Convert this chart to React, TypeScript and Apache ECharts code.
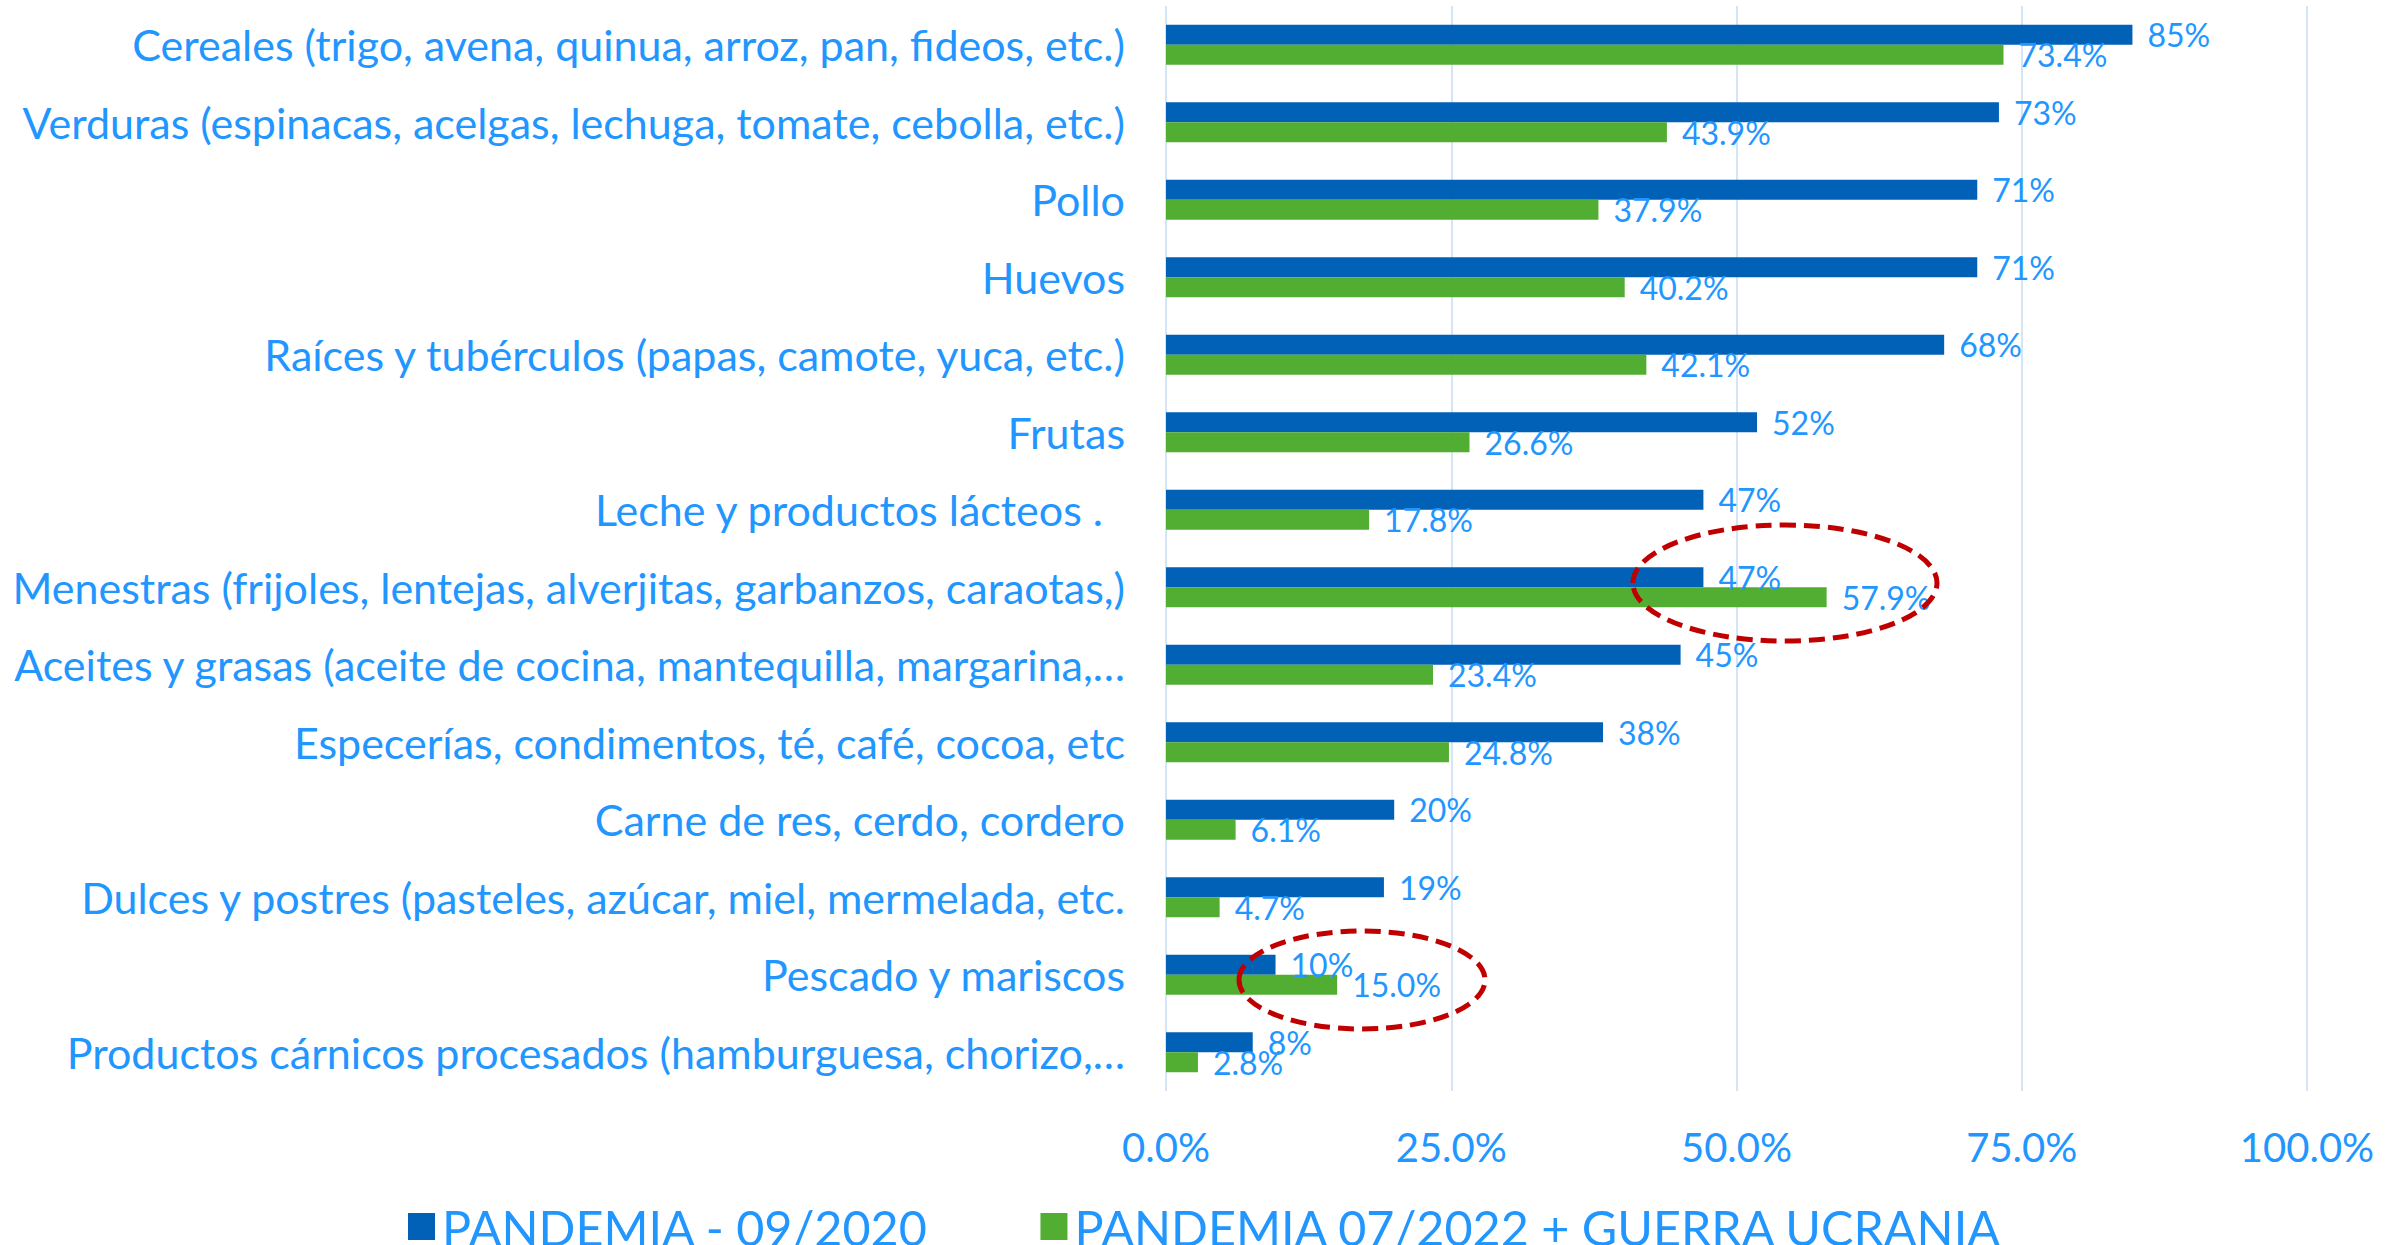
import React, { useEffect, useRef } from "react";
import * as echarts from "echarts";

const categories = [
  "Cereales (trigo, avena, quinua, arroz, pan, fideos, etc.)",
  "Verduras (espinacas, acelgas, lechuga, tomate, cebolla, etc.)",
  "Pollo",
  "Huevos",
  "Raíces y tubérculos (papas, camote, yuca, etc.)",
  "Frutas",
  "Leche y productos lácteos .  ",
  "Menestras (frijoles, lentejas, alverjitas, garbanzos, caraotas,)",
  "Aceites y grasas (aceite de cocina, mantequilla, margarina,…",
  "Especerías, condimentos, té, café, cocoa, etc",
  "Carne de res, cerdo, cordero",
  "Dulces y postres (pasteles, azúcar, miel, mermelada, etc.",
  "Pescado y mariscos",
  "Productos cárnicos procesados (hamburguesa, chorizo,…",
];

const pandemia2020 = [84.7, 73.0, 71.1, 71.1, 68.2, 51.8, 47.1, 47.1, 45.1, 38.3, 20.0, 19.1, 9.6, 7.6];
const pandemia2022 = [73.4, 43.9, 37.9, 40.2, 42.1, 26.6, 17.8, 57.9, 23.4, 24.8, 6.1, 4.7, 15.0, 2.8];

const seriesNames = ["PANDEMIA - 09/2020", "PANDEMIA 07/2022 + GUERRA UCRANIA"];
const xTicks = [0, 25, 50, 75, 100];

const TEXT = "#2196FF";
const FONT = "Lato";

export default function App() {
  const ref = useRef<HTMLDivElement>(null);
  useEffect(() => {
    if (!ref.current) return;
    const chart = echarts.init(ref.current, null, { renderer: "svg" });
    chart.setOption({
      animation: false,
      backgroundColor: "#ffffff",
      textStyle: { fontFamily: FONT },
      grid: { left: 1166, right: 98, top: 6, bottom: 154, containLabel: false },
      xAxis: {
        type: "value",
        min: xTicks[0],
        max: xTicks[xTicks.length - 1],
        interval: 25,
        axisLine: { show: false },
        axisTick: { show: false },
        splitLine: { show: true, lineStyle: { color: "#D3E5F7", width: 2 } },
        axisLabel: {
          color: TEXT,
          fontSize: 40,
          fontFamily: FONT,
          margin: 36,
          formatter: (v: number) => `${v.toFixed(1)}%`,
        },
      },
      yAxis: {
        type: "category",
        data: categories,
        inverse: true,
        axisLine: { show: false },
        axisTick: { show: false },
        axisLabel: { color: TEXT, fontSize: 43, fontFamily: FONT, margin: 41 },
      },
      legend: {
        top: 1202,
        left: 408,
        padding: 0,
        icon: "rect",
        itemWidth: 27,
        itemHeight: 27,
        itemGap: 112,
        textStyle: {
          color: TEXT,
          fontSize: 48.5,
          lineHeight: 40,
          fontFamily: FONT,
          padding: [0, 0, 0, 2],
        },
        data: seriesNames,
      },
      series: [
        {
          name: seriesNames[0],
          type: "bar",
          data: pandemia2020,
          barWidth: 20,
          barGap: "0%",
          itemStyle: { color: "#0061B6" },
          label: {
            show: true,
            position: "right",
            distance: 15,
            color: TEXT,
            fontSize: 32,
            fontFamily: FONT,
            formatter: (p: any) => `${Math.round(p.value)}%`,
          },
        },
        {
          name: seriesNames[1],
          type: "bar",
          data: pandemia2022,
          barWidth: 20,
          barGap: "0%",
          itemStyle: { color: "#52AE32" },
          label: {
            show: true,
            position: "right",
            distance: 15,
            color: TEXT,
            fontSize: 32,
            fontFamily: FONT,
            formatter: (p: any) => `${p.value.toFixed(1)}%`,
          },
        },
      ],
      graphic: [
        {
          type: "ellipse",
          z: 100,
          shape: { cx: 1785, cy: 583, rx: 152, ry: 58 },
          style: { fill: "none", stroke: "#C00000", lineWidth: 5, lineDash: [16, 8] },
        },
        {
          type: "ellipse",
          z: 100,
          shape: { cx: 1362, cy: 980, rx: 123, ry: 49 },
          style: { fill: "none", stroke: "#C00000", lineWidth: 5, lineDash: [16, 8] },
        },
      ],
    });
    return () => chart.dispose();
  }, []);
  return (
    <div
      ref={ref}
      style={{ position: "fixed", left: 0, top: 0, width: 2405, height: 1245, background: "#fff" }}
    />
  );
}
